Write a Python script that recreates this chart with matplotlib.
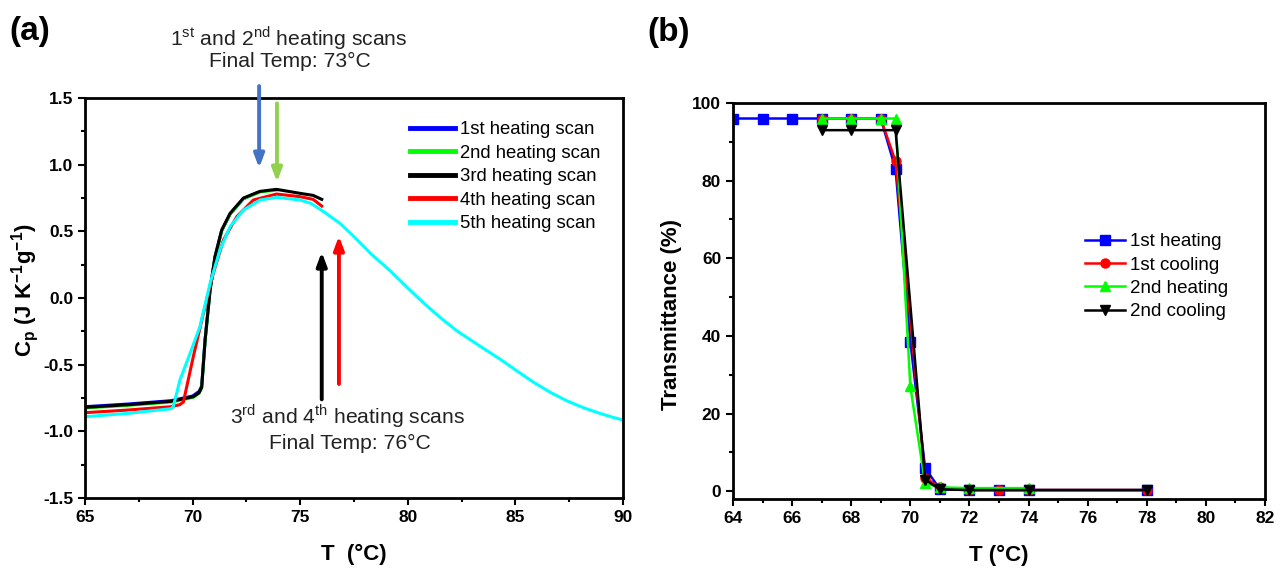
import matplotlib
matplotlib.use('Agg')
import matplotlib.pyplot as plt
from matplotlib.ticker import MultipleLocator

plt.rcParams['font.family'] = ['Liberation Sans', 'DejaVu Sans']
plt.rcParams['mathtext.fontset'] = 'custom'
plt.rcParams['mathtext.rm'] = 'Liberation Sans'
plt.rcParams['mathtext.bf'] = 'Liberation Sans:bold'
plt.rcParams['axes.unicode_minus'] = False

# ---- panel (a): DSC heating scans ----
t_black = [65, 67, 69, 70.03, 70.3, 70.42, 70.58, 70.81, 71.04, 71.35, 71.74, 72.36, 73.13, 73.9, 75.0, 75.6, 76.0]
cp_black = [-0.82, -0.80, -0.775, -0.74, -0.71, -0.67, -0.315, 0.06, 0.31, 0.51, 0.635, 0.75, 0.80, 0.815, 0.785, 0.77, 0.74]
t_blue = [65, 67, 69, 70.0, 70.3, 70.42, 70.58, 70.81, 71.04, 71.35, 71.74, 72.36, 73.0]
cp_blue = [-0.815, -0.795, -0.77, -0.735, -0.70, -0.66, -0.31, 0.065, 0.31, 0.505, 0.63, 0.745, 0.79]
t_green = [65, 67, 69, 70.03, 70.3, 70.42, 70.58, 70.81, 71.04, 71.35, 71.74, 72.36, 73.13, 73.9]
cp_green = [-0.825, -0.805, -0.78, -0.745, -0.715, -0.675, -0.32, 0.055, 0.305, 0.505, 0.63, 0.745, 0.795, 0.81]
t_red = [65, 67, 69, 69.4, 69.57, 70.03, 70.5, 70.96, 71.43, 72.05, 72.82, 73.9, 75.0, 75.6, 76.0]
cp_red = [-0.86, -0.84, -0.815, -0.80, -0.78, -0.44, -0.115, 0.185, 0.435, 0.61, 0.735, 0.78, 0.76, 0.74, 0.69]
t_cyan = [65, 67, 69.0, 69.1, 69.41, 69.88, 70.34, 70.81, 71.27, 71.74, 72.36, 73.13, 73.9, 75.0, 75.5, 76.07,
          76.85, 77.5, 78.3, 79.21, 80.0, 80.72, 81.5, 82.27, 83.3, 84.35, 85.1, 85.83, 86.6, 87.38, 88.2,
          88.93, 89.5, 90.0]
cp_cyan = [-0.89, -0.865, -0.83, -0.815, -0.615, -0.415, -0.215, 0.11, 0.36, 0.535, 0.66, 0.735, 0.755, 0.735, 0.71, 0.65,
           0.56, 0.46, 0.33, 0.20, 0.075, -0.035, -0.145, -0.245, -0.355, -0.465, -0.55, -0.63, -0.705, -0.77, -0.825,
           -0.865, -0.893, -0.915]

scan_labels = ['1st heating scan', '2nd heating scan', '3rd heating scan', '4th heating scan', '5th heating scan']

# ---- panel (b): transmittance ----
t_heat1 = [64, 65, 66, 67, 68, 69, 69.5, 70, 70.5, 71, 72, 73, 74, 78]
tr_heat1 = [96, 96, 96, 96, 96, 96, 83, 38.5, 6, 0.5, 0.3, 0.3, 0.3, 0.3]
t_cool1 = [67, 68, 69, 69.5, 70.5, 71, 72, 73, 74, 78]
tr_cool1 = [96, 96, 96, 85, 3.5, 1, 0.3, 0.3, 0.3, 0.3]
t_heat2 = [67, 68, 69, 69.5, 70, 70.5, 71, 72, 74]
tr_heat2 = [96, 96, 96, 96, 27, 2, 1, 0.8, 0.8]
t_cool2 = [67, 68, 69.5, 70.5, 71, 72, 74, 78]
tr_cool2 = [93, 93, 93, 3, 0.5, 0.3, 0.3, 0.3]

fig = plt.figure(figsize=(12.81, 5.68), dpi=100)
ax1 = fig.add_axes([0.0664, 0.1232, 0.4199, 0.7042])
ax2 = fig.add_axes([0.5722, 0.1215, 0.4153, 0.6972])

lw = 2.2
ax1.plot(t_blue, cp_blue, color='#0000FF', lw=lw, label=scan_labels[0])
ax1.plot(t_green, cp_green, color='#00FF00', lw=lw, label=scan_labels[1])
ax1.plot(t_black, cp_black, color='black', lw=lw, label=scan_labels[2])
ax1.plot(t_red, cp_red, color='#FF0000', lw=lw, label=scan_labels[3])
ax1.plot(t_cyan, cp_cyan, color='#00FFFF', lw=lw, label=scan_labels[4])

ax1.set_xlim(65, 90)
ax1.set_ylim(-1.5, 1.5)
ax1.xaxis.set_major_locator(MultipleLocator(5))
ax1.xaxis.set_minor_locator(MultipleLocator(2.5))
ax1.yaxis.set_major_locator(MultipleLocator(0.5))
ax1.yaxis.set_minor_locator(MultipleLocator(0.25))
ax1.set_xlabel('T  (°C)', fontsize=16, fontweight='bold', labelpad=14)
ax1.set_ylabel(r'C$_\mathbf{p}$ (J K$^\mathbf{-1}$g$^\mathbf{-1}$)', fontsize=16, fontweight='bold')
ax1.yaxis.set_label_coords(-0.082, 0.52)

leg1 = ax1.legend(loc='upper left', bbox_to_anchor=(0.59, 0.96), frameon=False, fontsize=13.3,
                  handlelength=2.45, handletextpad=0.27, labelspacing=0.35, borderaxespad=0)
for h in leg1.legend_handles:
    h.set_linewidth(3.5)

arrow_kw = dict(arrowstyle='-|>,head_length=0.8,head_width=0.3', lw=2.8, shrinkA=0, shrinkB=0)
ax1.annotate('', xy=(73.09, 0.975), xytext=(73.09, 1.59), annotation_clip=False,
             arrowprops=dict(color='#4472C4', **arrow_kw))
ax1.annotate('', xy=(73.92, 0.87), xytext=(73.92, 1.46), annotation_clip=False,
             arrowprops=dict(color='#92D050', **arrow_kw))
ax1.annotate('', xy=(76.0, 0.345), xytext=(76.0, -0.76),
             arrowprops=dict(color='black', **arrow_kw))
ax1.annotate('', xy=(76.8, 0.465), xytext=(76.8, -0.645),
             arrowprops=dict(color='#FF0000', **arrow_kw))

note_kw = dict(ha='center', va='center', fontsize=15.2, color='#222222')
ax1.text(74.45, 1.95, r'1$^{\rm st}$ and 2$^{\rm nd}$ heating scans', clip_on=False, **note_kw)
ax1.text(74.5, 1.775, 'Final Temp: 73°C', clip_on=False, **note_kw)
ax1.text(77.2, -0.885, r'3$^{\rm rd}$ and 4$^{\rm th}$ heating scans', **note_kw)
ax1.text(77.3, -1.09, 'Final Temp: 76°C', **note_kw)

# panel (b)
ms = 6.5
ax2.plot(t_heat1, tr_heat1, color='#0000FF', lw=1.8, marker='s', ms=ms, label='1st heating')
ax2.plot(t_cool1, tr_cool1, color='#FF0000', lw=1.8, marker='o', ms=ms, label='1st cooling')
ax2.plot(t_heat2, tr_heat2, color='#00FF00', lw=1.8, marker='^', ms=ms, label='2nd heating')
ax2.plot(t_cool2, tr_cool2, color='black', lw=1.8, marker='v', ms=ms, label='2nd cooling')

ax2.set_xlim(64, 82)
ax2.set_ylim(-2, 100)
ax2.xaxis.set_major_locator(MultipleLocator(2))
ax2.xaxis.set_minor_locator(MultipleLocator(1))
ax2.yaxis.set_major_locator(MultipleLocator(20))
ax2.yaxis.set_minor_locator(MultipleLocator(10))
ax2.set_xlabel('T (°C)', fontsize=16, fontweight='bold', labelpad=14)
ax2.set_ylabel('Transmittance (%)', fontsize=16, fontweight='bold')
ax2.yaxis.set_label_coords(-0.096, 0.465)
ax2.legend(loc='upper left', bbox_to_anchor=(0.648, 0.69), frameon=False, fontsize=13.5,
           handlelength=2.1, handletextpad=0.3, labelspacing=0.33, borderaxespad=0)

for ax in (ax1, ax2):
    for s in ax.spines.values():
        s.set_linewidth(2)
    ax.tick_params(which='both', direction='out', width=1.5, top=False, right=False)
    ax.tick_params(which='major', length=5, labelsize=12.5)
    ax.tick_params(which='minor', length=3)
    for lab in ax.get_xticklabels() + ax.get_yticklabels():
        lab.set_fontweight('bold')

fig.text(0.007, 0.945, '(a)', fontsize=24, fontweight='bold', va='center')
fig.text(0.505, 0.943, '(b)', fontsize=24, fontweight='bold', va='center')

fig.savefig('out.png', dpi=100)
